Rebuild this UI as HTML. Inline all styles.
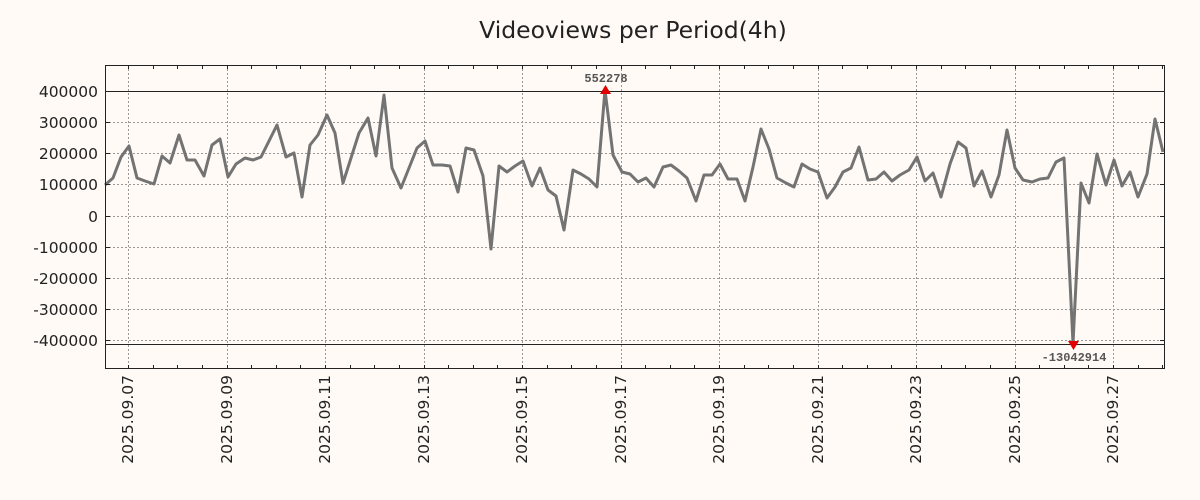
<!DOCTYPE html>
<html><head><meta charset="utf-8"><style>
body{margin:0;background:#fffaf5;}
svg{display:block;font-family:"DejaVu Sans","Liberation Sans",sans-serif;}
</style></head><body>
<svg width="1200" height="500" xmlns="http://www.w3.org/2000/svg">
<rect width="1200" height="500" fill="#fffaf5"/>
<text x="633" y="38" font-size="23.5" text-anchor="middle" fill="#222">Videoviews per Period(4h)</text>
<g stroke="#999" stroke-width="1" stroke-dasharray="2,2">
<line x1="105" x2="1165" y1="91.5" y2="91.5"/><line x1="105" x2="1165" y1="122.5" y2="122.5"/><line x1="105" x2="1165" y1="153.5" y2="153.5"/><line x1="105" x2="1165" y1="184.5" y2="184.5"/><line x1="105" x2="1165" y1="216.5" y2="216.5"/><line x1="105" x2="1165" y1="247.5" y2="247.5"/><line x1="105" x2="1165" y1="278.5" y2="278.5"/><line x1="105" x2="1165" y1="309.5" y2="309.5"/><line x1="105" x2="1165" y1="340.5" y2="340.5"/>
<line y1="65" y2="369" x1="128.5" x2="128.5"/><line y1="65" y2="369" x1="227.5" x2="227.5"/><line y1="65" y2="369" x1="325.5" x2="325.5"/><line y1="65" y2="369" x1="424.5" x2="424.5"/><line y1="65" y2="369" x1="522.5" x2="522.5"/><line y1="65" y2="369" x1="621.5" x2="621.5"/><line y1="65" y2="369" x1="719.5" x2="719.5"/><line y1="65" y2="369" x1="818.5" x2="818.5"/><line y1="65" y2="369" x1="916.5" x2="916.5"/><line y1="65" y2="369" x1="1015.5" x2="1015.5"/><line y1="65" y2="369" x1="1113.5" x2="1113.5"/>
</g>
<g stroke="#222" stroke-width="1">
<line x1="105" x2="1165" y1="91.5" y2="91.5"/>
<line x1="105" x2="1165" y1="344.5" y2="344.5"/>
</g>
<polyline fill="none" stroke="#737373" stroke-width="3" stroke-linejoin="round" points="105,185 113,178 121,157 129,146 137,178 145,181 154,184 162,156 170,163 179,135 187,160 195,160 204,176 212,145 220,139 228,177 236,164 245,158 253,160 261,157 269,141 277,125 286,157 294,153 302,197 310,145 318,135 327,115 335,133 343,183 351,158 359,133 368,118 376,156 384,95 392,168 401,188 409,168 417,148 425,141 433,165 442,165 450,166 458,192 466,148 474,150 483,176 491,249 499,166 507,172 515,166 523,161 532,186 540,168 548,190 556,196 564,230 573,170 581,174 589,179 597,187 605,90 613,155 622,172 630,174 638,182 646,178 654,187 663,167 671,165 679,171 687,178 696,201 704,175 712,175 720,164 728,179 737,179 745,201 753,167 761,129 769,149 777,178 786,183 794,187 802,164 810,169 818,172 827,198 835,187 843,172 851,168 859,147 868,180 876,179 884,172 892,181 900,175 909,170 917,157 925,181 933,173 941,197 950,164 958,142 966,148 974,186 982,171 991,197 999,175 1007,130 1015,168 1023,180 1032,182 1040,179 1048,178 1056,162 1064,158 1073,343 1081,183 1089,203 1097,154 1106,185 1114,160 1122,186 1130,172 1138,197 1147,174 1155,119 1163,152"/>
<polygon points="600,94 611,94 605.5,85" fill="#e00000"/>
<polygon points="1068,341 1079,341 1073.5,350" fill="#e00000"/>
<text x="606" y="82" font-size="12" text-anchor="middle" fill="#555" font-weight="bold" font-family="Liberation Mono,monospace">552278</text>
<text x="1074" y="361" font-size="12" text-anchor="middle" fill="#555" font-weight="bold" font-family="Liberation Mono,monospace">-13042914</text>
<rect x="105.5" y="65.5" width="1059" height="303" fill="none" stroke="#222" stroke-width="1"/>
<g stroke="#222" stroke-width="1">
<path d="M105 91.5h5M105 122.5h5M105 153.5h5M105 184.5h5M105 216.5h5M105 247.5h5M105 278.5h5M105 309.5h5M105 340.5h5M1165 91.5h-5M1165 122.5h-5M1165 153.5h-5M1165 184.5h-5M1165 216.5h-5M1165 247.5h-5M1165 278.5h-5M1165 309.5h-5M1165 340.5h-5"/>
<path d="M128.5 65v4M153.5 65v4M177.5 65v4M202.5 65v4M227.5 65v4M251.5 65v4M276.5 65v4M300.5 65v4M325.5 65v4M350.5 65v4M374.5 65v4M399.5 65v4M424.5 65v4M448.5 65v4M473.5 65v4M497.5 65v4M522.5 65v4M547.5 65v4M571.5 65v4M596.5 65v4M621.5 65v4M645.5 65v4M670.5 65v4M694.5 65v4M719.5 65v4M744.5 65v4M768.5 65v4M793.5 65v4M818.5 65v4M842.5 65v4M867.5 65v4M891.5 65v4M916.5 65v4M941.5 65v4M965.5 65v4M990.5 65v4M1015.5 65v4M1039.5 65v4M1064.5 65v4M1088.5 65v4M1113.5 65v4M1138.5 65v4M1162.5 65v4"/>
<path d="M128.5 369v-4M153.5 369v-4M177.5 369v-4M202.5 369v-4M227.5 369v-4M251.5 369v-4M276.5 369v-4M300.5 369v-4M325.5 369v-4M350.5 369v-4M374.5 369v-4M399.5 369v-4M424.5 369v-4M448.5 369v-4M473.5 369v-4M497.5 369v-4M522.5 369v-4M547.5 369v-4M571.5 369v-4M596.5 369v-4M621.5 369v-4M645.5 369v-4M670.5 369v-4M694.5 369v-4M719.5 369v-4M744.5 369v-4M768.5 369v-4M793.5 369v-4M818.5 369v-4M842.5 369v-4M867.5 369v-4M891.5 369v-4M916.5 369v-4M941.5 369v-4M965.5 369v-4M990.5 369v-4M1015.5 369v-4M1039.5 369v-4M1064.5 369v-4M1088.5 369v-4M1113.5 369v-4M1138.5 369v-4M1162.5 369v-4"/>
</g>
<g font-size="15.5" fill="#222" text-anchor="end">
<text x="98" y="97">400000</text><text x="98" y="128">300000</text><text x="98" y="159">200000</text><text x="98" y="190">100000</text><text x="98" y="222">0</text><text x="98" y="253">-100000</text><text x="98" y="284">-200000</text><text x="98" y="315">-300000</text><text x="98" y="346">-400000</text>
</g>
<g font-size="15.5" fill="#222" text-anchor="end">
<text transform="translate(133,375) rotate(-90)">2025.09.07</text>
<text transform="translate(232,375) rotate(-90)">2025.09.09</text>
<text transform="translate(330,375) rotate(-90)">2025.09.11</text>
<text transform="translate(429,375) rotate(-90)">2025.09.13</text>
<text transform="translate(527,375) rotate(-90)">2025.09.15</text>
<text transform="translate(626,375) rotate(-90)">2025.09.17</text>
<text transform="translate(724,375) rotate(-90)">2025.09.19</text>
<text transform="translate(823,375) rotate(-90)">2025.09.21</text>
<text transform="translate(921,375) rotate(-90)">2025.09.23</text>
<text transform="translate(1020,375) rotate(-90)">2025.09.25</text>
<text transform="translate(1118,375) rotate(-90)">2025.09.27</text>
</g>
</svg>
</body></html>
